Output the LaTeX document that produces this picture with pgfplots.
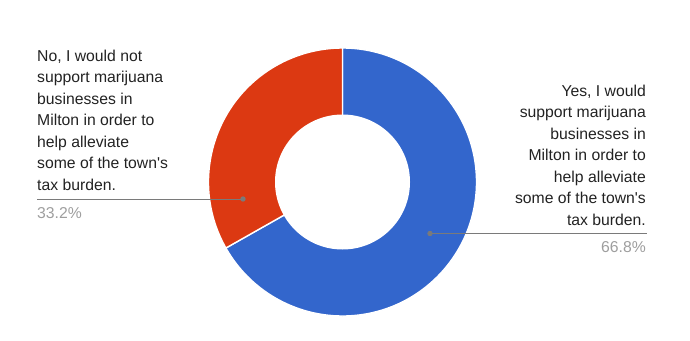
\documentclass[border=0pt]{standalone}
\usepackage{pgfplots}
\usepackage{pgfplotstable}
\pgfplotsset{compat=1.18}
\usepackage{fontspec}
\setmainfont{Liberation Sans}

\definecolor{sliceblue}{HTML}{3366CC}
\definecolor{slicered}{HTML}{DC3912}
\definecolor{labeltext}{HTML}{222222}
\definecolor{pcttext}{HTML}{9E9E9E}
\definecolor{leader}{HTML}{7A7A7A}

\pgfplotstableread{
answer value
Yes 66.8
No  33.2
}\donutdata

\begin{document}
\begin{tikzpicture}
\pgfplotstablegetelem{0}{value}\of\donutdata \let\yesval\pgfplotsretval
\pgfplotstablegetelem{1}{value}\of\donutdata \let\noval\pgfplotsretval
% slices run clockwise from 12 o'clock
\pgfmathsetmacro{\aStart}{90}
\pgfmathsetmacro{\aMid}{90-3.6*\yesval}
\pgfmathsetmacro{\aEnd}{\aMid-3.6*\noval}
\def\Rout{134bp}
\def\Rin{67.5bp}
\begin{axis}[
  scale only axis, width=690bp, height=340bp,
  xmin=0, xmax=690, ymin=0, ymax=340,
  hide axis, clip=false,
]
  \path (rel axis cs:0,0) rectangle (rel axis cs:1,1);
  % donut slices
  \fill[sliceblue, draw=white, line width=1.4bp]
    (axis cs:342.5,158) -- ++(\aStart:\Rout)
    arc[start angle=\aStart, end angle=\aMid, radius=\Rout] -- cycle;
  \fill[slicered, draw=white, line width=1.4bp]
    (axis cs:342.5,158) -- ++(\aMid:\Rout)
    arc[start angle=\aMid, end angle=\aEnd, radius=\Rout] -- cycle;
  \fill[white] (axis cs:342.5,158) circle[radius=\Rin];

  % leader lines
  \addplot[leader, line width=0.9bp, mark=*, mark size=2.2bp, mark indices={1},
    mark options={fill=leader, draw=leader}] coordinates {(243,141) (37,141)};
  \addplot[leader, line width=0.9bp, mark=*, mark size=2.2bp, mark indices={1},
    mark options={fill=leader, draw=leader}] coordinates {(430,106.5) (647,106.5)};

  % labels (anchored at the baseline of the last line)
  \node[anchor=base west, align=left, inner sep=0pt, text=labeltext,
    font=\fontsize{15.8}{21.5}\selectfont] at (axis cs:37,150)
    {No, I would not\\support marijuana\\businesses in\\Milton in order to\\help alleviate\\some of the town\textquotesingle s\\tax burden.};
  \node[anchor=base west, inner sep=0pt, text=pcttext,
    font=\fontsize{15.8}{21.5}\selectfont] at (axis cs:37,122) {33.2\%};
  \node[anchor=base east, align=right, inner sep=0pt, text=labeltext,
    font=\fontsize{15.8}{21.5}\selectfont] at (axis cs:646,115)
    {Yes, I would\\support marijuana\\businesses in\\Milton in order to\\help alleviate\\some of the town\textquotesingle s\\tax burden.};
  \node[anchor=base east, inner sep=0pt, text=pcttext,
    font=\fontsize{15.8}{21.5}\selectfont] at (axis cs:646,88) {66.8\%};
\end{axis}
\end{tikzpicture}
\end{document}
